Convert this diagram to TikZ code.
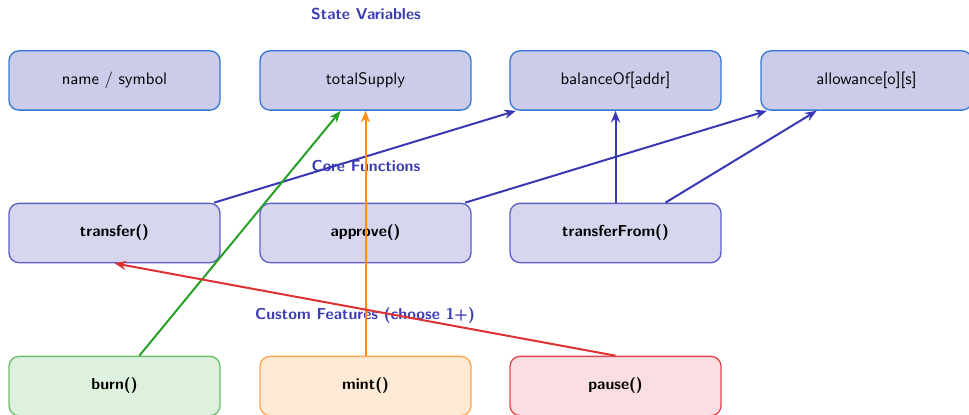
\documentclass[tikz,border=0pt]{standalone}
\usetikzlibrary{arrows.meta}
\definecolor{stateFill}{RGB}{204,204,234}
\definecolor{stateDraw}{RGB}{52,120,210}
\definecolor{coreFill}{RGB}{214,214,238}
\definecolor{coreDraw}{RGB}{95,95,200}
\definecolor{labelBlue}{RGB}{60,60,180}
\definecolor{linkBlue}{RGB}{56,56,180}
\definecolor{burnFill}{RGB}{222,240,222}
\definecolor{burnDraw}{RGB}{110,190,110}
\definecolor{burnLine}{RGB}{40,160,40}
\definecolor{mintFill}{RGB}{255,234,214}
\definecolor{mintDraw}{RGB}{255,165,80}
\definecolor{mintLine}{RGB}{255,140,20}
\definecolor{pauseFill}{RGB}{250,222,225}
\definecolor{pauseDraw}{RGB}{225,70,80}
\definecolor{pauseLine}{RGB}{220,50,50}
\newcommand{\boldtext}{\sffamily\bfseries\fontsize{9.5}{11}\selectfont}
\begin{document}
\begin{tikzpicture}[x=0.6pt,y=-0.6pt,font=\sffamily,
  box/.style={rounded corners=6pt,minimum width=126.6pt,minimum height=35.6pt,
    line width=0.8pt,inner sep=0pt},
  statebox/.style={box,fill=stateFill,draw=stateDraw},
  corebox/.style={box,fill=coreFill,draw=coreDraw,font=\boldtext},
  featbox/.style={box,font=\boldtext},
  grouplabel/.style={text=labelBlue,font=\boldtext},
  link/.style={line width=1.2pt,-{Stealth[length=7pt,width=5.5pt]}}]
\useasboundingbox (0,0) rectangle (969,415);
\clip (0,0) rectangle (969,415);

% group titles
\node[grouplabel] (tState) at (366,14) {State Variables};
\node[grouplabel] (tCore) at (366,166) {Core Functions};
\node[grouplabel] (tCustom) at (365,316) {Custom Features (choose 1+)};

% state variables
\node[statebox] (name)  at (114.5,80.5) {name / symbol};
\node[statebox] (supply) at (365.5,80.5) {totalSupply};
\node[statebox] (bal)   at (615.5,80.5) {balanceOf[addr]};
\node[statebox] (allow) at (866.5,80.5) {allowance[o][s]};

% core functions
\node[corebox] (transfer) at (114.5,233) {transfer()};
\node[corebox] (approve)  at (365.5,233) {approve()};
\node[corebox] (tfrom)    at (615.5,233) {transferFrom()};

% custom features
\node[featbox,fill=burnFill,draw=burnDraw]   (burn)  at (114.5,386) {burn()};
\node[featbox,fill=mintFill,draw=mintDraw]   (mint)  at (365.5,386) {mint()};
\node[featbox,fill=pauseFill,draw=pauseDraw] (pause) at (615.5,386) {pause()};

% connectors
\draw[link,linkBlue] (transfer) -- (bal);
\draw[link,linkBlue] (approve) -- (allow);
\draw[link,linkBlue] (tfrom) -- (bal);
\draw[link,linkBlue] (tfrom) -- (allow);
\draw[link,burnLine] (burn) -- (supply);
\draw[link,mintLine] (mint.north) -- (supply.south);
\draw[link,pauseLine] (pause.north) -- (transfer.south);
\end{tikzpicture}
\end{document}
